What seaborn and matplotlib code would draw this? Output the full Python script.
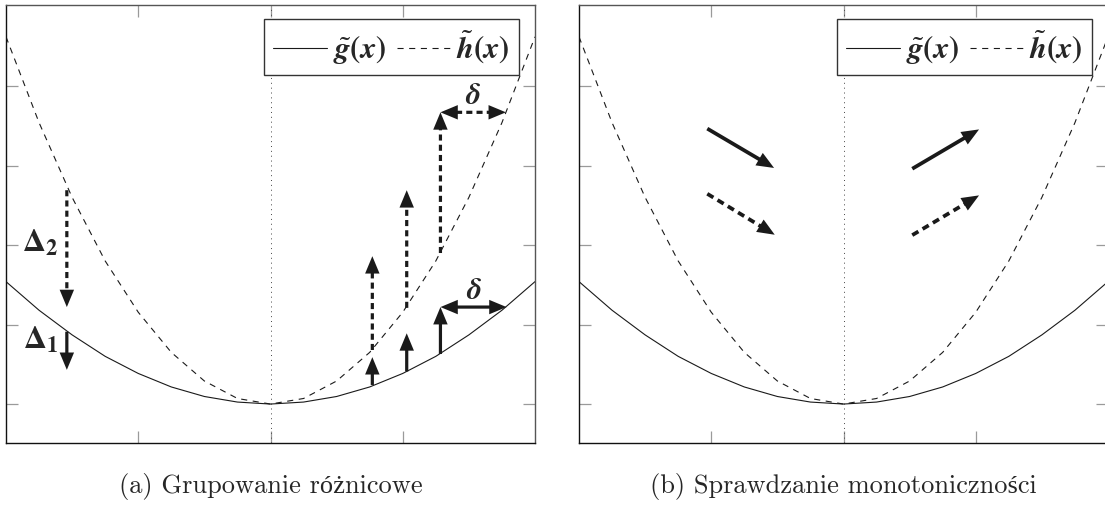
import numpy as np
import pandas as pd
import matplotlib
matplotlib.use("Agg")
import matplotlib.pyplot as plt
from matplotlib.lines import Line2D
import seaborn as sns

# sampled curve values
x_pts = [-2.0, -1.75, -1.5, -1.25, -1.0, -0.75, -0.5, -0.25, 0.0,
         0.25, 0.5, 0.75, 1.0, 1.25, 1.5, 1.75, 2.0]
g_pts = [1.54, 1.18, 0.87, 0.60, 0.385, 0.215, 0.095, 0.025, 0.0,
         0.025, 0.095, 0.215, 0.385, 0.60, 0.87, 1.18, 1.54]
h_pts = [4.62, 3.54, 2.60, 1.80, 1.155, 0.65, 0.29, 0.07, 0.0,
         0.07, 0.29, 0.65, 1.155, 1.80, 2.60, 3.54, 4.62]

# panel (a): differences at x = -1.54
delta_x = -1.54
delta2_from, delta2_to = 2.69, 1.22
delta1_from, delta1_to = 0.91, 0.43

# panel (a): vertical shifts on the right branch
shift_x = [0.77, 1.03, 1.285]
g_start = [0.24, 0.41, 0.63]
g_end = [0.59, 0.89, 1.22]
h_start = [0.68, 1.21, 1.90]
h_end = [1.86, 2.69, 3.67]

# panel (a): horizontal delta arrows (y, x_from, x_to)
delta_solid = (1.22, 1.285, 1.785)
delta_dashed = (3.67, 1.285, 1.78)

# panel (b): monotonicity arrows ((x0, y0), (x1, y1))
mono_solid = [((-1.03, 3.465), (-0.525, 2.97)), ((0.52, 2.96), (1.025, 3.455))]
mono_dashed = [((-1.03, 2.645), (-0.52, 2.13)), ((0.52, 2.125), (1.025, 2.625))]

captions = ["(a) Grupowanie różnicowe", "(b) Sprawdzanie monotoniczności"]
legend_labels = [r"$\tilde{\boldsymbol{g}}\boldsymbol{(x)}$",
                 r"$\tilde{\boldsymbol{h}}\boldsymbol{(x)}$"]

sns.set_theme(style="white")
plt.rcParams["mathtext.fontset"] = "stix"

W, H = 1105, 514
fig = plt.figure(figsize=(W / 100, H / 100), dpi=100)
ax_a = fig.add_axes([6 / W, 1 - 443 / H, 529 / W, 438 / H])
ax_b = fig.add_axes([579 / W, 1 - 443 / H, 529 / W, 438 / H])

curves = pd.DataFrame({"x": x_pts, "g": g_pts, "h": h_pts})

HL, HW = 12.5, 5.2  # arrow head length / half width in points


def arrow(ax, start, end, dashed=False, lw=2.3, both=False):
    ls = (0, (1.9, 1.3)) if dashed else "-"
    ax.annotate("", xy=end, xytext=start,
                arrowprops=dict(arrowstyle="-", lw=lw, color="k", linestyle=ls,
                                shrinkA=HL * 0.9 if both else 0, shrinkB=HL * 0.9,
                                mutation_scale=1, capstyle="butt"))
    style = ("<|-|>" if both else "-|>") + f",head_length={HL},head_width={HW}"
    ax.annotate("", xy=end, xytext=start,
                arrowprops=dict(arrowstyle=style, lw=0, color="k",
                                shrinkA=0, shrinkB=0, mutation_scale=1))


for ax in (ax_a, ax_b):
    ax.axvline(0, color="#444444", lw=0.7, ls=(0, (1, 4)), zorder=1)
    sns.lineplot(data=curves, x="x", y="g", ax=ax, color="k", lw=0.8,
                 sort=False, zorder=2)
    sns.lineplot(data=curves, x="x", y="h", ax=ax, color="k", lw=0.8,
                 sort=False, zorder=2)
    ax.lines[-1].set_linestyle((0, (5.5, 5)))
    ax.set_xlim(-2, 2)
    ax.set_ylim(-0.49, 5.02)
    ax.set_xticks([-1, 0, 1])
    ax.set_yticks([0, 1, 2, 3, 4])
    ax.set_xlabel("")
    ax.set_ylabel("")
    ax.tick_params(direction="in", length=8.5, width=0.9, color="#9a9a9a",
                   top=True, right=True, bottom=True, left=True,
                   labelbottom=False, labelleft=False)
    for side, sp in ax.spines.items():
        sp.set_visible(True)
        sp.set_linewidth(1.0)
        sp.set_color("#111111" if side in ("left", "bottom") else "#555555")
    handles = [Line2D([], [], color="k", lw=0.8),
               Line2D([], [], color="k", lw=0.8, ls=(0, (5.5, 5)))]
    leg = ax.legend(handles, legend_labels, loc="upper right",
                    bbox_to_anchor=(513 / 529, 1 - 14 / 438), ncol=2,
                    fontsize=22, frameon=True, fancybox=False, framealpha=1,
                    edgecolor="#333333", borderaxespad=0, borderpad=0.3,
                    handlelength=1.75, handletextpad=0.2, columnspacing=0.35)
    leg.get_frame().set_linewidth(1.0)
    leg.set_zorder(5)

# panel (a) annotations
arrow(ax_a, (delta_x, delta2_from), (delta_x, delta2_to), dashed=True)
arrow(ax_a, (delta_x, delta1_from), (delta_x, delta1_to))
ax_a.text(-1.607, 1.91, r"$\boldsymbol{\Delta}_{\boldsymbol{2}}$", fontsize=23,
          ha="right", va="baseline")
ax_a.text(-1.607, 0.70, r"$\boldsymbol{\Delta}_{\boldsymbol{1}}$", fontsize=23,
          ha="right", va="baseline")
for x, y0, y1 in zip(shift_x, g_start, g_end):
    arrow(ax_a, (x, y0), (x, y1))
for x, y0, y1 in zip(shift_x, h_start, h_end):
    arrow(ax_a, (x, y0), (x, y1), dashed=True)
y, x0, x1 = delta_solid
arrow(ax_a, (x0, y), (x1, y), both=True)
ax_a.text((x0 + x1) / 2, y + 0.1, r"$\boldsymbol{\delta}$", fontsize=22,
          ha="center", va="baseline")
y, x0, x1 = delta_dashed
arrow(ax_a, (x0, y), (x1, y), dashed=True, both=True)
ax_a.text((x0 + x1) / 2, y + 0.11, r"$\boldsymbol{\delta}$", fontsize=22,
          ha="center", va="baseline")

# panel (b) annotations
for s, e in mono_solid:
    arrow(ax_b, s, e, lw=2.7)
for s, e in mono_dashed:
    arrow(ax_b, s, e, dashed=True, lw=2.7)

# sub-figure captions, sized so that caption (a) is about 304 px wide
cap_texts = []
for ax, cap in zip((ax_a, ax_b), captions):
    cx = ax.get_position().x0 + 264.5 / W
    cap_texts.append(fig.text(cx, 1 - 487 / H, cap, ha="center", va="center",
                              fontsize=18, family=["cmr10", "Liberation Serif"]))
renderer = fig.canvas.get_renderer()
w0 = cap_texts[0].get_window_extent(renderer).width
for t in cap_texts:
    t.set_fontsize(18 * 304 / w0)

fig.savefig("out.png", dpi=100)
